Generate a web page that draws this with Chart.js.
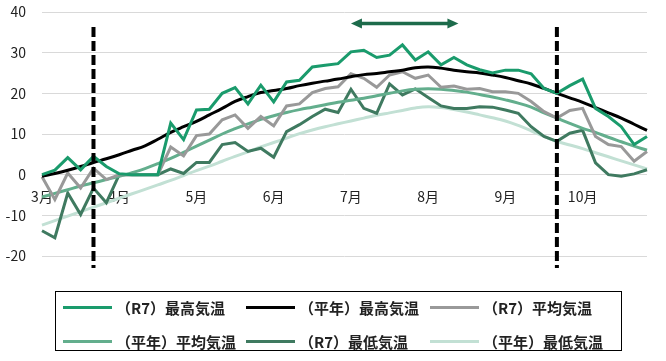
<!DOCTYPE html>
<html lang="ja">
<head>
<meta charset="utf-8">
<script src="https://cdn.jsdelivr.net/npm/chart.js@4.4.1/dist/chart.umd.min.js"></script>
<style>
    body { margin: 0; background: #fff; }
    #wrap { position: relative; width: 666px; height: 361px; }
    #legend {
        position: absolute; left: 55px; top: 291px; width: 565px; height: 58px;
        border: 1px solid #000; font-family: "Noto Sans CJK JP", sans-serif;
        font-size: 15px; font-weight: 700; color: #222;
    }
    .item { position: absolute; display: flex; align-items: center; height: 20px; white-space: nowrap; }
    .item span.sw { display: inline-block; width: 49px; height: 3px; margin-right: 4px; }
</style>
</head>
<body>
<div id="wrap">
    <canvas id="tempChart"></canvas>
    <div id="legend"></div>
</div>
<script>
// 半旬（5日）ごとの気温
const months = ['3月', '4月', '5月', '6月', '7月', '8月', '9月', '10月'];
const hanjun = ['1', '2', '3', '4', '5', '6'];
const categories = [];
months.forEach(m => hanjun.forEach(h => categories.push(m + h)));

const r7Max = [0.0, 1.1, 4.2, 1.2, 4.5, 2.0, 0.2, 0, 0, 0, 12.7, 8.6,
    15.9, 16.1, 20.0, 21.4, 17.4, 22.0, 17.9, 22.8, 23.2, 26.5, 26.9, 27.3,
    30.2, 30.6, 28.8, 29.4, 31.9, 28.2, 30.2, 27.0, 28.8, 27.0, 25.8, 25.0,
    25.7, 25.7, 24.8, 21.2, 20.0, 21.9, 23.5, 16.3, 14.3, 11.8, 7.4, 9.4];
const normMax = [-0.4, 0.3, 1.1, 2.0, 3.0, 3.9, 4.9, 6.0, 7.1, 8.7, 10.4, 11.8,
    13.1, 14.7, 16.3, 18.0, 19.2, 20.2, 20.7, 21.2, 21.9, 22.5, 23.0, 23.5,
    24.1, 24.6, 24.9, 25.3, 25.7, 26.3, 26.5, 26.2, 25.7, 25.3, 25.0, 24.5,
    23.9, 23.1, 22.3, 21.2, 20.0, 18.9, 17.8, 16.5, 15.2, 13.9, 12.4, 10.9];
const r7Mean = [-0.5, -6.1, 0.4, -3.3, 1.6, -1.2, 0, 0, 0, 0, 6.8, 4.6,
    9.6, 10.0, 13.5, 14.7, 11.4, 14.3, 12.0, 16.9, 17.4, 20.2, 21.2, 21.6,
    24.8, 23.7, 21.5, 24.5, 25.3, 23.7, 24.5, 21.5, 21.8, 21.0, 21.2, 20.4,
    20.4, 20.0, 18.0, 15.5, 13.9, 15.8, 16.3, 9.4, 7.4, 6.9, 3.3, 5.7];
const normMean = [-5.5, -4.6, -3.7, -2.8, -2.0, -1.2, -0.4, 0.5, 1.5, 2.7, 4.0, 5.5,
    7.0, 8.5, 10.0, 11.3, 12.5, 13.6, 14.5, 15.3, 16.0, 16.6, 17.2, 17.8,
    18.3, 18.8, 19.4, 20.0, 20.6, 21.0, 21.1, 21.0, 20.7, 20.3, 19.7, 19.1,
    18.4, 17.6, 16.6, 15.2, 13.9, 12.6, 11.4, 10.4, 9.2, 8.1, 7.0, 6.0];
const r7Min = [-13.8, -15.5, -4.5, -9.8, -3.3, -6.9, 0, 0, 0, 0, 1.4, 0.3,
    3.0, 3.0, 7.4, 7.9, 5.7, 6.5, 4.3, 10.6, 12.3, 14.3, 16.1, 15.3,
    21.0, 16.3, 15.1, 22.3, 19.6, 21.1, 19.0, 16.9, 16.3, 16.3, 16.7, 16.6,
    15.9, 15.1, 11.8, 9.4, 8.2, 10.2, 10.9, 2.9, 0.0, -0.4, 0.2, 1.2];
const normMin = [-12.4, -11.3, -10.2, -9.1, -8.0, -6.9, -5.8, -4.7, -3.6, -2.5, -1.4, -0.2,
    1.0, 2.1, 3.3, 4.5, 5.6, 6.8, 7.9, 9.0, 10.1, 11.0, 11.8, 12.5,
    13.2, 13.9, 14.6, 15.2, 15.8, 16.4, 16.7, 16.5, 16.0, 15.4, 14.7, 14.0,
    13.2, 12.1, 10.8, 9.4, 8.2, 7.3, 6.4, 5.4, 4.4, 3.4, 2.4, 1.4];

// 破線の位置（半旬の番号）と矢印の範囲
const markerIdx = [4, 40];
const arrowFrom = 24, arrowTo = 32.35, arrowLevel = 37.2;

const overlay = {
    id: 'overlay',
    afterDatasetsDraw(chart) {
        const { ctx, chartArea, scales: { x, y } } = chart;
        ctx.save();
        ctx.strokeStyle = '#000';
        ctx.lineWidth = 4;
        ctx.setLineDash([10, 4]);
        markerIdx.forEach(i => {
            const px = x.getPixelForValue(i);
            ctx.beginPath();
            ctx.moveTo(px, y.getPixelForValue(36.3));
            ctx.lineTo(px, chartArea.bottom + 12);
            ctx.stroke();
        });
        ctx.setLineDash([]);

        const x1 = x.getPixelForValue(arrowFrom), x2 = x.getPixelForValue(arrowTo);
        const ay = y.getPixelForValue(arrowLevel);
        ctx.strokeStyle = ctx.fillStyle = '#1d6b4b';
        ctx.lineWidth = 3.5;
        ctx.beginPath();
        ctx.moveTo(x1 + 8, ay);
        ctx.lineTo(x2 - 8, ay);
        ctx.stroke();
        [[x1, 1], [x2, -1]].forEach(([px, d]) => {
            ctx.beginPath();
            ctx.moveTo(px, ay);
            ctx.lineTo(px + d * 11, ay - 5);
            ctx.lineTo(px + d * 11, ay + 5);
            ctx.closePath();
            ctx.fill();
        });
        ctx.restore();
    }
};

function line(label, data, color, smooth) {
    return {
        label: label, data: data, borderColor: color, backgroundColor: color,
        borderWidth: 3, pointRadius: 0, tension: smooth ? 0.4 : 0, fill: false
    };
}

document.addEventListener('DOMContentLoaded', function() {
    const ctx = document.getElementById('tempChart').getContext('2d');
    const chart = new Chart(ctx, {
        type: 'line',
        data: {
            labels: categories,
            datasets: [
                line('（R7）最高気温', r7Max, '#1a9b6c', false),
                line('（平年）最高気温', normMax, '#000000', true),
                line('（R7）平均気温', r7Mean, '#999999', false),
                line('（平年）平均気温', normMean, '#63ae8d', true),
                line('（R7）最低気温', r7Min, '#3f7a60', false),
                line('（平年）最低気温', normMin, '#c2e0d4', true)
            ]
        },
        options: {
            responsive: true,
            maintainAspectRatio: false,
            animation: false,
            layout: { padding: { top: 12, right: 19, bottom: 105, left: 0 } },
            plugins: { legend: { display: false }, tooltip: { enabled: false } },
            scales: {
                x: {
                    position: { y: 0 },
                    afterFit: s => { s.paddingTop = 0; s.paddingBottom = 0; s.height = 0; },
                    grid: { display: false, drawTicks: false },
                    border: { display: false },
                    ticks: {
                        autoSkip: false, maxRotation: 0, padding: 14, color: '#222',
                        font: { family: 'Noto Sans CJK JP', size: 14 },
                        callback: (v, i) => i % 6 === 0 ? months[i / 6] : ''
                    }
                },
                y: {
                    min: -20, max: 40,
                    afterFit: s => { s.width = 42; s.paddingTop = 0; s.paddingBottom = 0; },
                    grid: { color: '#d9d9d9', drawTicks: false },
                    border: { display: false },
                    ticks: {
                        stepSize: 10, padding: 16, color: '#222',
                        font: { family: 'Noto Sans CJK JP', size: 14 }
                    }
                }
            }
        },
        plugins: [overlay]
    });

    // 凡例（3列×2行）
    const cols = [7, 190, 374], rows = [5, 39];
    const legend = document.getElementById('legend');
    chart.data.datasets.forEach((ds, i) => {
        const el = document.createElement('div');
        el.className = 'item';
        el.style.left = cols[i % 3] + 'px';
        el.style.top = rows[Math.floor(i / 3)] + 'px';
        el.innerHTML = '<span class="sw" style="background:' + ds.borderColor + '"></span>' + ds.label;
        legend.appendChild(el);
    });
});
</script>
</body>
</html>
